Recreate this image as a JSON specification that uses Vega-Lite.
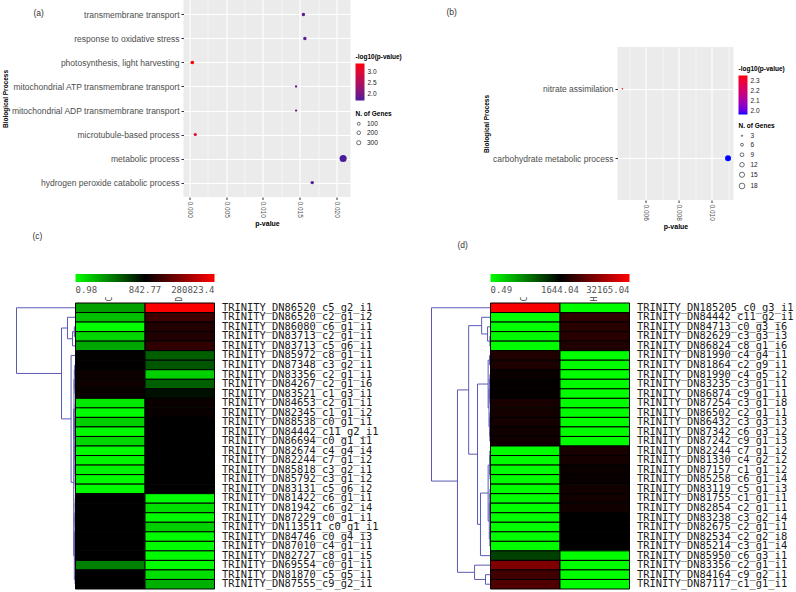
{
  "$schema": "https://vega.github.io/schema/vega-lite/v6.json",
  "background": "white",
  "padding": {"left": 2.5, "top": 0, "right": 0, "bottom": 0},
  "bounds": "flush",
  "spacing": 274,
  "resolve": {
    "scale": {"color": "independent", "size": "independent"},
    "legend": {"color": "independent", "size": "independent"}
  },
  "config": {
    "view": {"stroke": null},
    "font": "Liberation Sans",
    "axis": {"labelFont": "Liberation Sans", "titleFont": "Liberation Sans"},
    "legend": {"labelFont": "Liberation Sans", "titleFont": "Liberation Sans"},
    "title": {"font": "Liberation Sans"}
  },
  "datasets": {
    "gap": [{"gap": 0}],
    "goA": [
      {"process": "transmembrane transport", "pValue": 0.0155, "negLog10P": 1.81, "genes": 180},
      {"process": "response to oxidative stress", "pValue": 0.0157, "negLog10P": 1.80, "genes": 190},
      {"process": "photosynthesis, light harvesting", "pValue": 0.0004, "negLog10P": 3.40, "genes": 200},
      {"process": "mitochondrial ATP transmembrane transport", "pValue": 0.0145, "negLog10P": 1.84, "genes": 35},
      {"process": "mitochondrial ADP transmembrane transport", "pValue": 0.0145, "negLog10P": 1.84, "genes": 30},
      {"process": "microtubule-based process", "pValue": 0.0008, "negLog10P": 3.10, "genes": 130},
      {"process": "metabolic process", "pValue": 0.0209, "negLog10P": 1.68, "genes": 1000},
      {"process": "hydrogen peroxide catabolic process", "pValue": 0.0167, "negLog10P": 1.78, "genes": 170}
    ],
    "goB": [
      {"process": "nitrate assimilation", "pValue": 0.0046, "negLog10P": 2.34, "genes": 3},
      {"process": "carbohydrate metabolic process", "pValue": 0.0110, "negLog10P": 1.96, "genes": 19}
    ],
    "barC": [
      {"pos": 0, "label": "0.98"},
      {"pos": 0.5, "label": "842.77"},
      {"pos": 1, "label": "280823.4"}
    ],
    "barD": [
      {"pos": 0, "label": "0.49"},
      {"pos": 0.5, "label": "1644.04"},
      {"pos": 1, "label": "32165.04"}
    ],
    "heatC": [
      {"gene": "TRINITY_DN86520_c5_g2_i1", "C": 12.2, "D": 260000},
      {"gene": "TRINITY_DN86520_c2_g1_i2", "C": 5.2, "D": 3400},
      {"gene": "TRINITY_DN86080_c6_g1_i1", "C": 1.0, "D": 1750},
      {"gene": "TRINITY_DN83713_c2_g1_i1", "C": 2.75, "D": 1750},
      {"gene": "TRINITY_DN83713_c5_g6_i1", "C": 10, "D": 2500},
      {"gene": "TRINITY_DN85972_c8_g1_i1", "C": 900, "D": 66},
      {"gene": "TRINITY_DN87348_c3_g2_i1", "C": 880, "D": 88},
      {"gene": "TRINITY_DN83356_c2_g1_i1", "C": 1100, "D": 3.4},
      {"gene": "TRINITY_DN84267_c2_g1_i6", "C": 1150, "D": 66},
      {"gene": "TRINITY_DN83521_c1_g3_i1", "C": 1050, "D": 550},
      {"gene": "TRINITY_DN84653_c2_g1_i1", "C": 1.8, "D": 1050},
      {"gene": "TRINITY_DN82345_c1_g1_i2", "C": 1.0, "D": 1000},
      {"gene": "TRINITY_DN88538_c0_g1_i1", "C": 3.4, "D": 850},
      {"gene": "TRINITY_DN84442_c11_g2_i1", "C": 1.1, "D": 850},
      {"gene": "TRINITY_DN86694_c0_g1_i1", "C": 2.8, "D": 850},
      {"gene": "TRINITY_DN82674_c4_g4_i4", "C": 1.1, "D": 850},
      {"gene": "TRINITY_DN82244_c7_g1_i2", "C": 1.2, "D": 845},
      {"gene": "TRINITY_DN85818_c3_g2_i1", "C": 1.3, "D": 845},
      {"gene": "TRINITY_DN85792_c3_g1_i2", "C": 1.1, "D": 845},
      {"gene": "TRINITY_DN83131_c5_g6_i2", "C": 1.1, "D": 845},
      {"gene": "TRINITY_DN81422_c6_g1_i1", "C": 845, "D": 1.0},
      {"gene": "TRINITY_DN81942_c6_g2_i4", "C": 845, "D": 2.2},
      {"gene": "TRINITY_DN87229_c0_g1_i1", "C": 845, "D": 1.1},
      {"gene": "TRINITY_DN113511_c0_g1_i1", "C": 845, "D": 3.4},
      {"gene": "TRINITY_DN84746_c0_g4_i3", "C": 845, "D": 1.1},
      {"gene": "TRINITY_DN87010_c4_g1_i1", "C": 845, "D": 1.0},
      {"gene": "TRINITY_DN82727_c8_g1_i5", "C": 845, "D": 1.1},
      {"gene": "TRINITY_DN69554_c0_g1_i1", "C": 28, "D": 1.0},
      {"gene": "TRINITY_DN81870_c5_g5_i1", "C": 845, "D": 2.2},
      {"gene": "TRINITY_DN87555_c9_g2_i1", "C": 845, "D": 7.9}
    ],
    "heatD": [
      {"gene": "TRINITY_DN185205_c0_g3_i1", "C": 30000, "H": 0.5},
      {"gene": "TRINITY_DN84442_c11_g2_i1", "C": 0.5, "H": 2880},
      {"gene": "TRINITY_DN84713_c0_g3_i6", "C": 0.5, "H": 2620},
      {"gene": "TRINITY_DN82629_c3_g3_i3", "C": 0.6, "H": 2620},
      {"gene": "TRINITY_DN86824_c8_g1_i6", "C": 0.5, "H": 2390},
      {"gene": "TRINITY_DN81990_c4_g4_i1", "C": 2390, "H": 0.5},
      {"gene": "TRINITY_DN81864_c2_g9_i1", "C": 2300, "H": 0.5},
      {"gene": "TRINITY_DN81990_c4_g5_i2", "C": 1850, "H": 0.5},
      {"gene": "TRINITY_DN83235_c3_g1_i1", "C": 1740, "H": 0.55},
      {"gene": "TRINITY_DN86874_c9_g1_i1", "C": 1720, "H": 0.5},
      {"gene": "TRINITY_DN87254_c3_g1_i8", "C": 2175, "H": 0.5},
      {"gene": "TRINITY_DN86502_c2_g1_i1", "C": 2100, "H": 0.5},
      {"gene": "TRINITY_DN86432_c3_g3_i3", "C": 2100, "H": 0.5},
      {"gene": "TRINITY_DN87342_c6_g3_i2", "C": 1980, "H": 0.5},
      {"gene": "TRINITY_DN87242_c9_g1_i3", "C": 1980, "H": 0.5},
      {"gene": "TRINITY_DN82244_c7_g1_i2", "C": 0.5, "H": 2175},
      {"gene": "TRINITY_DN81330_c4_g2_i2", "C": 0.5, "H": 2100},
      {"gene": "TRINITY_DN87157_c1_g1_i2", "C": 0.5, "H": 1850},
      {"gene": "TRINITY_DN85258_c6_g1_i4", "C": 0.5, "H": 1800},
      {"gene": "TRINITY_DN83119_c5_g1_i3", "C": 0.5, "H": 1980},
      {"gene": "TRINITY_DN81755_c1_g1_i1", "C": 0.5, "H": 1980},
      {"gene": "TRINITY_DN82854_c2_g1_i1", "C": 0.5, "H": 1980},
      {"gene": "TRINITY_DN83238_c3_g2_i4", "C": 0.5, "H": 1660},
      {"gene": "TRINITY_DN82675_c2_g1_i1", "C": 0.5, "H": 1650},
      {"gene": "TRINITY_DN82534_c2_g2_i8", "C": 0.5, "H": 1650},
      {"gene": "TRINITY_DN85214_c3_g1_i4", "C": 0.5, "H": 1650},
      {"gene": "TRINITY_DN85950_c6_g3_i1", "C": 214, "H": 0.5},
      {"gene": "TRINITY_DN83356_c2_g1_i1", "C": 7325, "H": 0.5},
      {"gene": "TRINITY_DN84164_c9_g2_i1", "C": 3490, "H": 0.5},
      {"gene": "TRINITY_DN87117_c1_g1_i1", "C": 4180, "H": 0.5}
    ],
    "treeC": [
      {"h": 0.02, "y1": 2.5, "h1": 0, "y2": 3.5, "h2": 0},
      {"h": 0.05, "y1": 3.0, "h1": 0.02, "y2": 4.5, "h2": 0},
      {"h": 0.136, "y1": 1.5, "h1": 0, "y2": 3.75, "h2": 0.05},
      {"h": 0.012, "y1": 6.5, "h1": 0, "y2": 7.5, "h2": 0},
      {"h": 0.01, "y1": 8.5, "h1": 0, "y2": 9.5, "h2": 0},
      {"h": 0.02, "y1": 7.0, "h1": 0.012, "y2": 9.0, "h2": 0.01},
      {"h": 0.005, "y1": 10.5, "h1": 0, "y2": 11.5, "h2": 0},
      {"h": 0.005, "y1": 12.5, "h1": 0, "y2": 13.5, "h2": 0},
      {"h": 0.008, "y1": 11.0, "h1": 0.005, "y2": 13.0, "h2": 0.005},
      {"h": 0.004, "y1": 14.5, "h1": 0, "y2": 15.5, "h2": 0},
      {"h": 0.004, "y1": 16.5, "h1": 0, "y2": 17.5, "h2": 0},
      {"h": 0.004, "y1": 18.5, "h1": 0, "y2": 19.5, "h2": 0},
      {"h": 0.006, "y1": 17.0, "h1": 0.004, "y2": 19.0, "h2": 0.004},
      {"h": 0.008, "y1": 15.0, "h1": 0.004, "y2": 18.0, "h2": 0.006},
      {"h": 0.012, "y1": 12.0, "h1": 0.008, "y2": 16.5, "h2": 0.008},
      {"h": 0.025, "y1": 8.0, "h1": 0.02, "y2": 14.25, "h2": 0.012},
      {"h": 0.004, "y1": 20.5, "h1": 0, "y2": 21.5, "h2": 0},
      {"h": 0.004, "y1": 22.5, "h1": 0, "y2": 23.5, "h2": 0},
      {"h": 0.006, "y1": 21.0, "h1": 0.004, "y2": 23.0, "h2": 0.004},
      {"h": 0.004, "y1": 24.5, "h1": 0, "y2": 25.5, "h2": 0},
      {"h": 0.005, "y1": 26.5, "h1": 0, "y2": 27.5, "h2": 0},
      {"h": 0.007, "y1": 25.0, "h1": 0.004, "y2": 27.0, "h2": 0.005},
      {"h": 0.01, "y1": 22.0, "h1": 0.006, "y2": 26.0, "h2": 0.007},
      {"h": 0.006, "y1": 28.5, "h1": 0, "y2": 29.5, "h2": 0},
      {"h": 0.02, "y1": 24.0, "h1": 0.01, "y2": 29.0, "h2": 0.006},
      {"h": 0.03, "y1": 11.125, "h1": 0.025, "y2": 26.5, "h2": 0.02},
      {"h": 0.075, "y1": 5.5, "h1": 0, "y2": 18.8125, "h2": 0.03},
      {"h": 0.237, "y1": 2.625, "h1": 0.136, "y2": 12.156, "h2": 0.075},
      {"h": 1.0, "y1": 0.5, "h1": 0, "y2": 7.39, "h2": 0.237}
    ],
    "treeD": [
      {"h": 0.01, "y1": 3.5, "h1": 0, "y2": 4.5, "h2": 0},
      {"h": 0.05, "y1": 2.5, "h1": 0, "y2": 4.0, "h2": 0.01},
      {"h": 0.15, "y1": 1.5, "h1": 0, "y2": 3.25, "h2": 0.05},
      {"h": 0.015, "y1": 5.5, "h1": 0, "y2": 6.5, "h2": 0},
      {"h": 0.01, "y1": 7.5, "h1": 0, "y2": 8.5, "h2": 0},
      {"h": 0.01, "y1": 9.5, "h1": 0, "y2": 10.5, "h2": 0},
      {"h": 0.02, "y1": 8.0, "h1": 0.01, "y2": 10.0, "h2": 0.01},
      {"h": 0.01, "y1": 11.5, "h1": 0, "y2": 12.5, "h2": 0},
      {"h": 0.01, "y1": 13.5, "h1": 0, "y2": 14.5, "h2": 0},
      {"h": 0.015, "y1": 12.0, "h1": 0.01, "y2": 14.0, "h2": 0.01},
      {"h": 0.025, "y1": 9.0, "h1": 0.02, "y2": 13.0, "h2": 0.015},
      {"h": 0.04, "y1": 6.0, "h1": 0.015, "y2": 11.0, "h2": 0.025},
      {"h": 0.01, "y1": 15.5, "h1": 0, "y2": 16.5, "h2": 0},
      {"h": 0.008, "y1": 17.5, "h1": 0, "y2": 18.5, "h2": 0},
      {"h": 0.015, "y1": 16.0, "h1": 0.01, "y2": 18.0, "h2": 0.008},
      {"h": 0.008, "y1": 19.5, "h1": 0, "y2": 20.5, "h2": 0},
      {"h": 0.008, "y1": 21.5, "h1": 0, "y2": 22.5, "h2": 0},
      {"h": 0.012, "y1": 20.0, "h1": 0.008, "y2": 22.0, "h2": 0.008},
      {"h": 0.005, "y1": 23.5, "h1": 0, "y2": 24.5, "h2": 0},
      {"h": 0.01, "y1": 24.0, "h1": 0.005, "y2": 25.5, "h2": 0},
      {"h": 0.02, "y1": 21.0, "h1": 0.012, "y2": 24.75, "h2": 0.01},
      {"h": 0.04, "y1": 17.0, "h1": 0.015, "y2": 22.875, "h2": 0.02},
      {"h": 0.17, "y1": 19.9375, "h1": 0.04, "y2": 26.5, "h2": 0},
      {"h": 0.22, "y1": 8.5, "h1": 0.04, "y2": 23.21875, "h2": 0.17},
      {"h": 0.37, "y1": 2.375, "h1": 0.15, "y2": 15.86, "h2": 0.22},
      {"h": 0.085, "y1": 28.5, "h1": 0, "y2": 29.5, "h2": 0},
      {"h": 0.27, "y1": 27.5, "h1": 0, "y2": 29.0, "h2": 0.085},
      {"h": 0.56, "y1": 9.117, "h1": 0.37, "y2": 28.25, "h2": 0.27},
      {"h": 1.0, "y1": 0.5, "h1": 0, "y2": 18.68, "h2": 0.56}
    ]
  },
  "vconcat": [
    {
      "bounds": "flush",
      "spacing": 0,
      "resolve": {"scale": {"color": "independent", "size": "independent"}, "legend": {"color": "independent", "size": "independent"}},
      "hconcat": [
        {"width": 167, "height": 10, "data": {"name": "gap"}, "mark": {"type": "point", "opacity": 0}, "encoding": {}},
        {
          "width": 167,
          "height": 197,
          "view": {"fill": "#EBEBEB", "stroke": null},
          "title": {"text": "(a)", "anchor": "start", "frame": "group", "offset": 0, "dx": -150, "dy": 17, "fontSize": 8.5, "fontWeight": "normal", "color": "#333"},
          "data": {"name": "goA"},
          "mark": {"type": "circle", "opacity": 1},
          "encoding": {
            "x": {
              "field": "pValue", "type": "quantitative",
              "scale": {"domain": [-0.0008, 0.0219], "nice": false, "zero": false},
              "axis": {
                "title": "p-value", "titleFontSize": 7, "titleFontWeight": "bold", "titleColor": "#000", "titlePadding": 2,
                "values": [0, 0.0025, 0.005, 0.0075, 0.01, 0.0125, 0.015, 0.0175, 0.02],
                "format": ".3f",
                "labelExpr": "abs(datum.value * 200 - round(datum.value * 200)) < 0.001 ? datum.label : ''",
                "labelAngle": 90, "labelAlign": "left", "labelBaseline": "middle",
                "labelFontSize": 6.5, "labelColor": "#4d4d4d", "labelPadding": 1.5, "labelOverlap": false, "labelFlush": false,
                "domain": false, "tickColor": "#333", "tickSize": 2.5,
                "tickOpacity": {"condition": {"test": "abs(datum.value * 200 - round(datum.value * 200)) < 0.001", "value": 1}, "value": 0},
                "grid": true, "gridColor": "#ffffff",
                "gridWidth": {"condition": {"test": "abs(datum.value * 200 - round(datum.value * 200)) < 0.001", "value": 1.1}, "value": 0.5}
              }
            },
            "y": {
              "field": "process", "type": "nominal",
              "sort": ["transmembrane transport", "response to oxidative stress", "photosynthesis, light harvesting", "mitochondrial ATP transmembrane transport", "mitochondrial ADP transmembrane transport", "microtubule-based process", "metabolic process", "hydrogen peroxide catabolic process"],
              "scale": {"type": "point", "padding": 0.6},
              "axis": {
                "title": "Biological Process", "titleFontSize": 6.5, "titleFontWeight": "bold", "titleColor": "#000", "titlePadding": 2,
                "labelFontSize": 8.5, "labelColor": "#4d4d4d", "labelLimit": 0, "labelPadding": 2,
                "domain": false, "tickColor": "#333", "tickSize": 2.5,
                "grid": true, "gridColor": "#ffffff", "gridWidth": 1.1
              }
            },
            "color": {
              "field": "negLog10P", "type": "quantitative", "title": "-log10(p-value)",
              "scale": {"domain": [1.68, 3.4], "range": ["#4a1a9a", "#ff0000"], "interpolate": "lab"},
              "legend": {
                "orient": "none", "legendX": 172, "legendY": 54, "direction": "vertical",
                "values": [2, 2.5, 3], "format": ".1f",
                "gradientLength": 37, "gradientThickness": 9, "gradientStrokeWidth": 0,
                "titleFontSize": 6.5, "titleFontWeight": "bold", "titleColor": "#000", "titlePadding": 3,
                "labelFontSize": 6.5, "labelColor": "#222", "labelOffset": 3
              }
            },
            "size": {
              "field": "genes", "type": "quantitative", "title": "N. of Genes",
              "scale": {"domain": [5, 1000], "range": [4, 50], "zero": false},
              "legend": {
                "orient": "none", "legendX": 172, "legendY": 111,
                "values": [100, 200, 300],
                "symbolType": "circle", "symbolFillColor": "#ffffff", "symbolStrokeColor": "#333", "symbolStrokeWidth": 0.7,
                "titleFontSize": 6.5, "titleFontWeight": "bold", "titleColor": "#000", "titlePadding": 3,
                "labelFontSize": 6.5, "labelColor": "#222", "labelOffset": 5, "rowPadding": 2
              }
            }
          }
        },
        {"width": 267, "height": 10, "data": {"name": "gap"}, "mark": {"type": "point", "opacity": 0}, "encoding": {}},
        {
          "bounds": "flush",
          "spacing": 0,
          "vconcat": [
            {"width": 116, "height": 47, "data": {"name": "gap"}, "mark": {"type": "point", "opacity": 0}, "encoding": {}},
            {
              "width": 116,
              "height": 153,
              "view": {"fill": "#EBEBEB", "stroke": null},
              "title": {"text": "(b)", "anchor": "start", "frame": "group", "offset": 0, "dx": -171, "dy": -31, "fontSize": 8.5, "fontWeight": "normal", "color": "#333"},
              "data": {"name": "goB"},
              "mark": {"type": "circle", "opacity": 1},
              "encoding": {
                "x": {
                  "field": "pValue", "type": "quantitative",
                  "scale": {"domain": [0.0043, 0.01133], "nice": false, "zero": false},
                  "axis": {
                    "title": "p-value", "titleFontSize": 7, "titleFontWeight": "bold", "titleColor": "#000", "titlePadding": 2,
                    "values": [0.005, 0.006, 0.007, 0.008, 0.009, 0.01, 0.011],
                    "format": ".3f",
                    "labelExpr": "abs(datum.value * 500 - round(datum.value * 500)) < 0.001 ? datum.label : ''",
                    "labelAngle": 90, "labelAlign": "left", "labelBaseline": "middle",
                    "labelFontSize": 6.5, "labelColor": "#4d4d4d", "labelPadding": 1.5, "labelOverlap": false, "labelFlush": false,
                    "domain": false, "tickColor": "#333", "tickSize": 2.5,
                    "tickOpacity": {"condition": {"test": "abs(datum.value * 500 - round(datum.value * 500)) < 0.001", "value": 1}, "value": 0},
                    "grid": true, "gridColor": "#ffffff",
                    "gridWidth": {"condition": {"test": "abs(datum.value * 500 - round(datum.value * 500)) < 0.001", "value": 1.1}, "value": 0.5}
                  }
                },
                "y": {
                  "field": "process", "type": "nominal",
                  "sort": ["nitrate assimilation", "carbohydrate metabolic process"],
                  "scale": {"type": "point", "padding": 0.6},
                  "axis": {
                    "title": "Biological Process", "titleFontSize": 6.5, "titleFontWeight": "bold", "titleColor": "#000", "titlePadding": 3,
                    "labelFontSize": 8.5, "labelColor": "#4d4d4d", "labelLimit": 0, "labelPadding": 2,
                    "domain": false, "tickColor": "#333", "tickSize": 2.5,
                    "grid": true, "gridColor": "#ffffff", "gridWidth": 1.1
                  }
                },
                "color": {
                  "field": "negLog10P", "type": "quantitative", "title": "-log10(p-value)",
                  "scale": {"domain": [1.96, 2.35], "range": ["#0000ff", "#ff0000"], "interpolate": "lab"},
                  "legend": {
                    "orient": "none", "legendX": 121, "legendY": 66, "direction": "vertical",
                    "values": [2.0, 2.1, 2.2, 2.3], "format": ".1f",
                    "gradientLength": 39, "gradientThickness": 9, "gradientStrokeWidth": 0,
                    "titleFontSize": 6.5, "titleFontWeight": "bold", "titleColor": "#000", "titlePadding": 3,
                    "labelFontSize": 6.5, "labelColor": "#222", "labelOffset": 3
                  }
                },
                "size": {
                  "field": "genes", "type": "quantitative", "title": "N. of Genes",
                  "scale": {"domain": [3, 19], "range": [2, 35], "zero": false},
                  "legend": {
                    "orient": "none", "legendX": 121, "legendY": 123,
                    "values": [3, 6, 9, 12, 15, 18],
                    "symbolType": "circle", "symbolFillColor": "#ffffff", "symbolStrokeColor": "#333", "symbolStrokeWidth": 0.7,
                    "titleFontSize": 6.5, "titleFontWeight": "bold", "titleColor": "#000", "titlePadding": 3,
                    "labelFontSize": 6.5, "labelColor": "#222", "labelOffset": 5, "rowPadding": 2
                  }
                }
              }
            }
          ]
        }
      ]
    },
    {
      "bounds": "flush",
      "spacing": 0,
      "resolve": {"scale": {"color": "independent", "size": "independent"}, "legend": {"color": "independent", "size": "independent"}},
      "hconcat": [
        {
          "bounds": "flush",
          "spacing": 29,
          "vconcat": [
            {
              "bounds": "flush",
              "spacing": 0,
              "hconcat": [
                {"width": 59, "height": 8, "data": {"name": "gap"}, "mark": {"type": "point", "opacity": 0}, "encoding": {}},
                {
                  "width": 139,
                  "height": 8,
                  "data": {"name": "barC"},
                  "layer": [
                    {
                      "mark": {"type": "rect", "color": {"gradient": "linear", "x1": 0, "y1": 0, "x2": 1, "y2": 0, "stops": [{"offset": 0, "color": "#00ff00"}, {"offset": 0.5, "color": "#000000"}, {"offset": 1, "color": "#ff0000"}]}},
                      "encoding": {
                        "x": {"aggregate": "min", "field": "pos", "type": "quantitative", "scale": {"domain": [0, 1], "nice": false}, "axis": null},
                        "x2": {"aggregate": "max", "field": "pos"},
                        "y": {"value": 0},
                        "y2": {"value": "height"}
                      }
                    },
                    {
                      "mark": {"type": "text", "align": {"expr": "datum.pos == 0 ? 'left' : datum.pos == 1 ? 'right' : 'center'"}, "baseline": "top", "dy": 4, "font": "DejaVu Sans Mono", "fontSize": 9, "color": "#555"},
                      "encoding": {
                        "x": {"field": "pos", "type": "quantitative"},
                        "y": {"value": "height"},
                        "text": {"field": "label"}
                      }
                    }
                  ]
                }
              ]
            },
            {
              "bounds": "flush",
              "spacing": 0,
              "hconcat": [
                {
                  "width": 59,
                  "height": 286,
                  "title": {"text": "(c)", "anchor": "start", "frame": "group", "offset": 0, "dx": 16, "dy": -63, "fontSize": 8.5, "fontWeight": "normal", "color": "#333"},
                  "data": {"name": "treeC"},
                  "encoding": {
                    "x": {"field": "h", "type": "quantitative", "scale": {"domain": [0, 1], "reverse": true, "nice": false}, "axis": null}
                  },
                  "layer": [
                    {"mark": {"type": "rule", "color": "#5a5ab4", "strokeWidth": 1}, "encoding": {"y": {"field": "y1", "type": "quantitative", "scale": {"domain": [0, 30], "reverse": true, "nice": false}, "axis": null}, "y2": {"field": "y2"}}},
                    {"mark": {"type": "rule", "color": "#5a5ab4", "strokeWidth": 1}, "encoding": {"x2": {"field": "h1"}, "y": {"field": "y1", "type": "quantitative"}}},
                    {"mark": {"type": "rule", "color": "#5a5ab4", "strokeWidth": 1}, "encoding": {"x2": {"field": "h2"}, "y": {"field": "y2", "type": "quantitative"}}}
                  ]
                },
                {
                  "width": 139,
                  "height": 286,
                  "data": {"name": "heatC"},
                  "transform": [{"fold": ["C", "D"], "as": ["sample", "expression"]}],
                  "mark": {"type": "rect", "stroke": "#000", "strokeWidth": 1},
                  "encoding": {
                    "x": {
                      "field": "sample", "type": "nominal", "scale": {"paddingInner": 0, "paddingOuter": 0},
                      "axis": {"orient": "top", "title": null, "labelAngle": 270, "labelAlign": "left", "labelBaseline": "middle", "labelFont": "DejaVu Sans Mono", "labelFontSize": 8, "labelColor": "#444", "ticks": false, "domain": false, "labelPadding": 2}
                    },
                    "y": {
                      "field": "gene", "type": "nominal", "sort": null, "scale": {"paddingInner": 0, "paddingOuter": 0},
                      "axis": {"orient": "right", "title": null, "ticks": false, "domain": false, "labelFont": "DejaVu Sans Mono", "labelFontSize": 10.4, "labelColor": "#1a1a1a", "labelPadding": 7, "labelOverlap": false, "labelLimit": 0}
                    },
                    "color": {
                      "field": "expression", "type": "quantitative",
                      "scale": {"type": "log", "domain": [0.98, 842.77, 280823.4], "range": ["#00ff00", "#000000", "#ff0000"], "interpolate": "rgb"},
                      "legend": null
                    }
                  }
                }
              ]
            }
          ]
        },
        {"width": 415, "height": 8, "data": {"name": "gap"}, "mark": {"type": "point", "opacity": 0}, "encoding": {}},
        {
          "bounds": "flush",
          "spacing": 29,
          "vconcat": [
            {
              "bounds": "flush",
              "spacing": 0,
              "hconcat": [
                {"width": 59, "height": 8, "data": {"name": "gap"}, "mark": {"type": "point", "opacity": 0}, "encoding": {}},
                {
                  "width": 139,
                  "height": 8,
                  "data": {"name": "barD"},
                  "layer": [
                    {
                      "mark": {"type": "rect", "color": {"gradient": "linear", "x1": 0, "y1": 0, "x2": 1, "y2": 0, "stops": [{"offset": 0, "color": "#00ff00"}, {"offset": 0.5, "color": "#000000"}, {"offset": 1, "color": "#ff0000"}]}},
                      "encoding": {
                        "x": {"aggregate": "min", "field": "pos", "type": "quantitative", "scale": {"domain": [0, 1], "nice": false}, "axis": null},
                        "x2": {"aggregate": "max", "field": "pos"},
                        "y": {"value": 0},
                        "y2": {"value": "height"}
                      }
                    },
                    {
                      "mark": {"type": "text", "align": {"expr": "datum.pos == 0 ? 'left' : datum.pos == 1 ? 'right' : 'center'"}, "baseline": "top", "dy": 4, "font": "DejaVu Sans Mono", "fontSize": 9, "color": "#555"},
                      "encoding": {
                        "x": {"field": "pos", "type": "quantitative"},
                        "y": {"value": "height"},
                        "text": {"field": "label"}
                      }
                    }
                  ]
                }
              ]
            },
            {
              "bounds": "flush",
              "spacing": 0,
              "hconcat": [
                {
                  "width": 59,
                  "height": 286,
                  "title": {"text": "(d)", "anchor": "start", "frame": "group", "offset": 0, "dx": 26, "dy": -54, "fontSize": 8.5, "fontWeight": "normal", "color": "#333"},
                  "data": {"name": "treeD"},
                  "encoding": {
                    "x": {"field": "h", "type": "quantitative", "scale": {"domain": [0, 1], "reverse": true, "nice": false}, "axis": null}
                  },
                  "layer": [
                    {"mark": {"type": "rule", "color": "#5a5ab4", "strokeWidth": 1}, "encoding": {"y": {"field": "y1", "type": "quantitative", "scale": {"domain": [0, 30], "reverse": true, "nice": false}, "axis": null}, "y2": {"field": "y2"}}},
                    {"mark": {"type": "rule", "color": "#5a5ab4", "strokeWidth": 1}, "encoding": {"x2": {"field": "h1"}, "y": {"field": "y1", "type": "quantitative"}}},
                    {"mark": {"type": "rule", "color": "#5a5ab4", "strokeWidth": 1}, "encoding": {"x2": {"field": "h2"}, "y": {"field": "y2", "type": "quantitative"}}}
                  ]
                },
                {
                  "width": 139,
                  "height": 286,
                  "data": {"name": "heatD"},
                  "transform": [{"fold": ["C", "H"], "as": ["sample", "expression"]}],
                  "mark": {"type": "rect", "stroke": "#000", "strokeWidth": 1},
                  "encoding": {
                    "x": {
                      "field": "sample", "type": "nominal", "scale": {"paddingInner": 0, "paddingOuter": 0},
                      "axis": {"orient": "top", "title": null, "labelAngle": 270, "labelAlign": "left", "labelBaseline": "middle", "labelFont": "DejaVu Sans Mono", "labelFontSize": 8, "labelColor": "#444", "ticks": false, "domain": false, "labelPadding": 2}
                    },
                    "y": {
                      "field": "gene", "type": "nominal", "sort": null, "scale": {"paddingInner": 0, "paddingOuter": 0},
                      "axis": {"orient": "right", "title": null, "ticks": false, "domain": false, "labelFont": "DejaVu Sans Mono", "labelFontSize": 10.4, "labelColor": "#1a1a1a", "labelPadding": 7, "labelOverlap": false, "labelLimit": 0}
                    },
                    "color": {
                      "field": "expression", "type": "quantitative",
                      "scale": {"type": "log", "domain": [0.49, 1644.04, 32165.04], "range": ["#00ff00", "#000000", "#ff0000"], "interpolate": "rgb"},
                      "legend": null
                    }
                  }
                }
              ]
            }
          ]
        }
      ]
    }
  ]
}
